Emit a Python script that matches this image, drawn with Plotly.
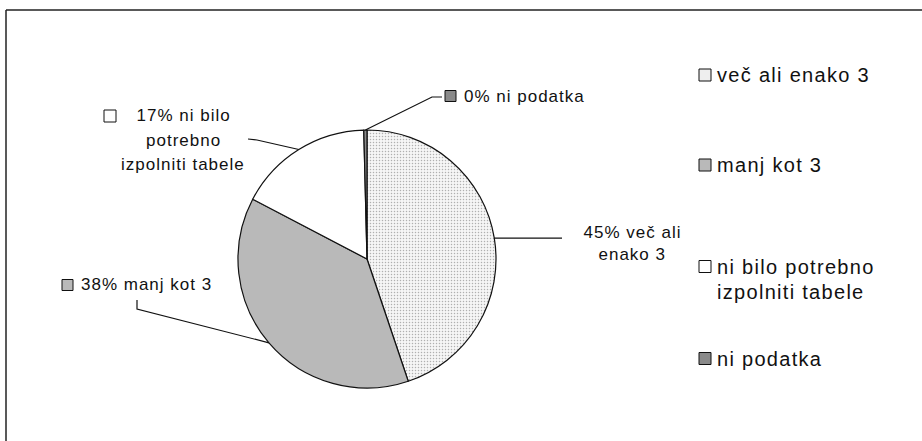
import math
import plotly.graph_objects as go

# ---------------- data ----------------
categories = ["več ali enako 3", "manj kot 3", "ni bilo potrebno izpolniti tabele", "ni podatka"]
values = [45, 38, 17, 0.4]
label_lines = [["več ali", "enako 3"], ["manj kot 3"], ["ni bilo", "potrebno", "izpolniti tabele"], ["ni podatka"]]
legend_lines = [["več ali enako 3"], ["manj kot 3"], ["ni bilo potrebno", "izpolniti tabele"], ["ni podatka"]]

# ---------------- styling / layout constants ----------------
W, H = 922, 441
CX, CY, R = 367, 259, 129
FONT = "Liberation Sans, Arial, sans-serif"
TXT = "#111111"
LBL_SIZE = 17
LEG_SIZE = 20
box_fills = ["#eeeeee", "#b9b9b9", "#ffffff", "#8a8a8a"]
slice_colors = ["#efefef", "#b9b9b9", "#ffffff", "#8a8a8a"]


def fx(x):
    return x / W


def fy(y):
    return 1 - y / H


fig = go.Figure()
fig.add_trace(go.Pie(
    labels=categories,
    values=values,
    sort=False,
    direction="clockwise",
    rotation=0,
    textinfo="none",
    hoverinfo="label+percent",
    showlegend=False,
    marker=dict(colors=slice_colors,
                pattern=dict(shape=[".", "", "", ""], fgcolor=["#b0b0b0", "#b9b9b9", "#ffffff", "#8a8a8a"],
                             bgcolor=["#f6f6f6", "#b9b9b9", "#ffffff", "#8a8a8a"], size=3, solidity=0.2),
                line=dict(color="#111111", width=1.2)),
    domain=dict(x=[fx(CX - R), fx(CX + R)], y=[fy(CY + R), fy(CY - R)]),
))

# mid-angle edge points of each slice (from data)
total = sum(values)
edge = []
acc = 0
for v in values:
    mid = (acc + v / 2) / total * 2 * math.pi
    edge.append((CX + R * math.sin(mid), CY - R * math.cos(mid)))
    acc += v
pct = [f"{round(v / total * 100):.0f}%" for v in values]

shapes = []
annotations = []

# frame (top and left lines)
shapes.append(dict(type="line", xref="paper", yref="paper", x0=fx(6), x1=fx(W + 5), y0=fy(10), y1=fy(10),
                   line=dict(color="#222", width=1.5)))
shapes.append(dict(type="line", xref="paper", yref="paper", x0=fx(6), x1=fx(6), y0=fy(10), y1=fy(H + 5),
                   line=dict(color="#222", width=1.5)))


def path(points):
    d = "M " + " L ".join(f"{fx(x):.5f},{fy(y):.5f}" for x, y in points)
    return dict(type="path", xref="paper", yref="paper", path=d, line=dict(color="#111", width=1.2))


def box(x, y, fill, s=11):
    return dict(type="rect", xref="paper", yref="paper", x0=fx(x), x1=fx(x + s), y0=fy(y + s / 2),
                y1=fy(y - s / 2), fillcolor=fill, line=dict(color="#111", width=1))


def text(x, y, t, anchor, size):
    annotations.append(dict(xref="paper", yref="paper", x=fx(x), y=fy(y), text=t, showarrow=False,
                            xanchor=anchor, yanchor="middle", align=anchor if anchor != "center" else "center",
                            font=dict(family=FONT, size=size, color=TXT)))


def label_block(x, y0, lines, anchor, step=24.5, prefix=""):
    for k, ln in enumerate(lines):
        text(x, y0 + k * step, (prefix + " " + ln) if k == 0 and prefix else ln, anchor, LBL_SIZE)


# slice 0: 45% več ali enako 3
ex, ey = edge[0]
shapes.append(path([(ex, ey), (562, ey)]))
label_block(632, 232.5, label_lines[0], "center", step=22, prefix=pct[0])
# slice 1: 38% manj kot 3
ex, ey = edge[1]
shapes.append(path([(ex, ey), (137, 309), (137, 300)]))
shapes.append(box(62, 285, box_fills[1]))
label_block(79, 284.5, label_lines[1], "left", prefix=pct[1])
# slice 2: 17% ni bilo potrebno izpolniti tabele
ex, ey = edge[2]
shapes.append(path([(ex, ey), (257, 140), (248, 139)]))
shapes.append(box(104, 116, box_fills[2], s=12))
label_block(183, 116, label_lines[2], "center", step=24.3, prefix=pct[2])
# slice 3: 0% ni podatka
ex, ey = edge[3]
shapes.append(path([(ex, ey), (432, 97), (442, 97)]))
shapes.append(box(445, 96, box_fills[3]))
label_block(462, 96, label_lines[3], "left", prefix=pct[3])

n_label_ann = len(annotations)

# manual legend
legend_y = [75, 165, 266.5, 358.5]
for i, (lines, y) in enumerate(zip(legend_lines, legend_y)):
    shapes.append(box(699, y, box_fills[i], s=12))
    for k, ln in enumerate(lines):
        text(715, y + k * 25, ln, "left", LEG_SIZE)

fig.update_layout(
    width=W, height=H,
    margin=dict(l=0, r=0, t=0, b=0),
    paper_bgcolor="white", plot_bgcolor="white",
    shapes=shapes, annotations=annotations,
)

post = """
document.body.style.margin = '0';
document.body.style.overflow = 'hidden';
var gd = document.getElementById('{plot_id}');
gd.querySelectorAll('.annotation').forEach(function(a) {
  var i = parseInt(a.getAttribute('data-index'));
  var t = a.querySelector('text');
  if (t) { t.style.letterSpacing = (i < %d) ? '1.0px' : '1.3px'; }
});
""" % n_label_ann
fig.write_html("out.html", post_script=post, config={"displayModeBar": False})
